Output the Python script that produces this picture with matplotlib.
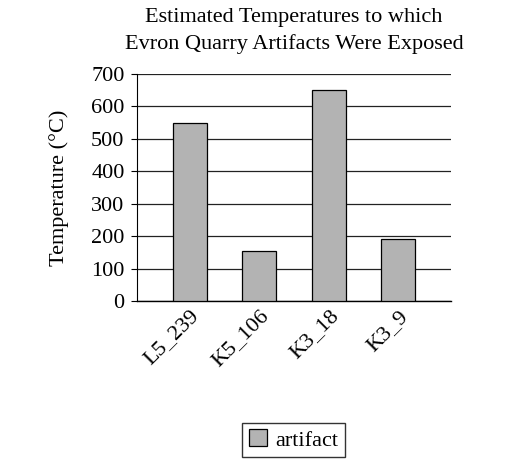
import matplotlib
matplotlib.use('Agg')
import matplotlib.pyplot as plt
import numpy as np

# values
artifacts = ['L5_239', 'K5_106', 'K3_18', 'K3_9']
temperatures = [550, 155, 650, 190]
y_ticks = [0, 100, 200, 300, 400, 500, 600, 700]

plt.rcParams['font.family'] = ['Liberation Serif', 'DejaVu Serif']

fig = plt.figure(figsize=(5.12, 4.68), dpi=100)
ax = fig.add_axes([0.2676, 0.3568, 0.6133, 0.4851])

x = np.arange(len(artifacts))
ax.bar(x, temperatures, width=0.49, color='#b3b3b3', edgecolor='black',
       linewidth=0.9, label='artifact', zorder=3)

ax.set_ylim(0, 700)
ax.set_xlim(-0.757, len(artifacts) - 1 + 0.757)
ax.set_yticks(y_ticks)
ax.tick_params(axis='y', length=4, width=0.8, direction='out', labelsize=16, pad=5)
ax.tick_params(axis='x', length=0, labelsize=16, pad=4)
ax.set_xticks(x)
ax.set_xticklabels(artifacts, rotation=45, ha='right', rotation_mode='anchor')

ax.yaxis.grid(True, color='#222222', linewidth=0.9, zorder=0)
for s in ['right', 'top']:
    ax.spines[s].set_visible(False)
ax.spines['left'].set_linewidth(0.8)
ax.spines['bottom'].set_linewidth(1.0)

ax.set_ylabel('Temperature (°C)', fontsize=16, labelpad=16)
ax.set_title('Estimated Temperatures to which\nEvron Quarry Artifacts Were Exposed',
             fontsize=16, pad=18, linespacing=1.45)

fig.legend(loc='center', bbox_to_anchor=(0.574, 0.06), fontsize=16,
           frameon=True, fancybox=False, edgecolor='black', handlelength=0.8,
           handleheight=0.8, borderpad=0.3, handletextpad=0.4)

fig.savefig('out.png', dpi=100)
